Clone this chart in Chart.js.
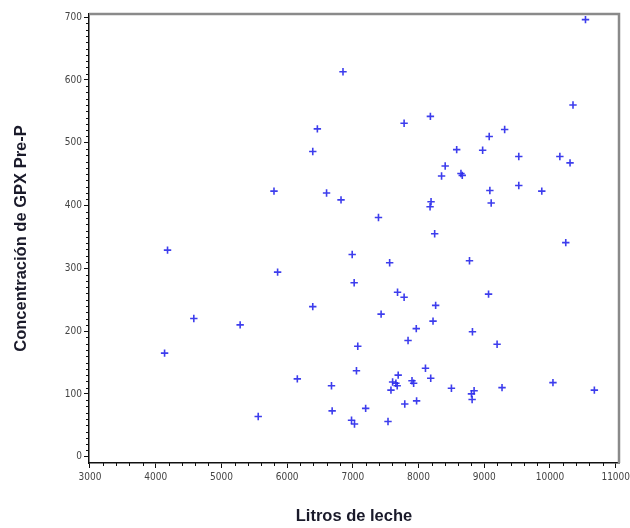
<!DOCTYPE html>
<html>
<head>
<meta charset="utf-8">
<script src="https://cdn.jsdelivr.net/npm/chart.js@4/dist/chart.umd.min.js"></script>
<style>
  html, body { margin: 0; padding: 0; background: #fff; }
  #wrap { width: 630px; height: 528px; position: relative; }
</style>
</head>
<body>
<div id="wrap"><canvas id="c"></canvas></div>
<script>
// Milk yield (litres) per cow and pre-partum GPX concentration
const litros = [
  6850, 6460, 6390, 7780, 8180, 8405, 8350, 5800, 6600, 6820,
  8190, 8175, 7390, 8245, 10540, 10350, 9310, 9075, 8580, 8975,
  9525, 10150, 10305, 8645, 8665, 9525, 9085, 9875, 9105, 10240,
  4180, 4580, 5285, 4135, 5560, 6990, 7560, 5855, 7020, 7680,
  7780, 8260, 6390, 7430, 8220, 7965, 7840, 7075, 7055, 8105,
  6155, 7690, 8185, 7605, 7655, 7900, 7925, 6675, 7675, 7580,
  7790, 7970, 7195, 6685, 6980, 7025, 7535, 8775, 9065, 8820,
  9195, 8500, 9270, 10045, 10675, 8845, 8805, 8815
];
const gpx = [
  613, 522, 486, 531, 542, 463, 447, 423, 420, 409,
  406, 398, 381, 355, 696, 560, 521, 510, 489, 488,
  478, 478, 468, 451, 448, 432, 424, 423, 404, 341,
  329, 220, 210, 165, 64, 322, 309, 294, 277, 262,
  254, 241, 239, 227, 216, 204, 185, 176, 137, 141,
  124, 130, 125, 119, 117, 121, 117, 113, 113, 106,
  84, 89, 77, 73, 58, 52, 56, 312, 259, 199,
  179, 109, 110, 118, 106, 105, 100, 91
];

// Axis tick values
const xTicks = [3000, 4000, 5000, 6000, 7000, 8000, 9000, 10000, 11000];
const yTicks = [0, 100, 200, 300, 400, 500, 600, 700];
const xMinorStep = 200;
const yMinorStep = 10;

const points = litros.map((x, i) => ({ x: x, y: gpx[i] }));

// Minor tick marks and the grey top/right frame
const framePlugin = {
  id: 'frame',
  afterDraw(chart) {
    const { ctx, chartArea: a, scales } = chart;
    const xs = scales.x, ys = scales.y;
    ctx.save();
    ctx.strokeStyle = '#111';
    ctx.lineWidth = 1;
    ctx.beginPath();
    for (let v = xTicks[0]; v <= xTicks[xTicks.length - 1]; v += xMinorStep) {
      if (v % 1000 === 0) continue;
      const px = Math.round(xs.getPixelForValue(v)) + 0.5;
      ctx.moveTo(px, a.bottom);
      ctx.lineTo(px, a.bottom + 3);
    }
    for (let v = yTicks[0]; v <= yTicks[yTicks.length - 1]; v += yMinorStep) {
      if (v % 100 === 0) continue;
      const py = Math.round(ys.getPixelForValue(v)) + 0.5;
      ctx.moveTo(a.left, py);
      ctx.lineTo(a.left - 3, py);
    }
    ctx.stroke();
    ctx.strokeStyle = '#8a8a8a';
    ctx.lineWidth = 2.5;
    ctx.beginPath();
    ctx.moveTo(a.left, a.top);
    ctx.lineTo(a.right, a.top);
    ctx.lineTo(a.right, a.bottom);
    ctx.stroke();
    ctx.restore();
  }
};

const tickFont = { family: '"DejaVu Sans Condensed", "DejaVu Sans", sans-serif', size: 10 };
const titleFont = { family: '"Liberation Sans", Arial, sans-serif', size: 16.5, weight: 'bold' };

new Chart(document.getElementById('c'), {
  type: 'scatter',
  data: {
    datasets: [{
      data: points,
      pointStyle: 'cross',
      pointRadius: 3.7,
      pointHoverRadius: 3.7,
      borderColor: 'rgba(40, 40, 235, 0.9)',
      backgroundColor: 'rgba(40, 40, 235, 0.9)',
      pointBorderWidth: 1.6
    }]
  },
  options: {
    responsive: true,
    maintainAspectRatio: false,
    animation: false,
    events: [],
    layout: { padding: { left: 0, top: 14, right: 11, bottom: 0 } },
    plugins: { legend: { display: false }, tooltip: { enabled: false } },
    scales: {
      x: {
        type: 'linear',
        min: 2985,
        max: 11050,
        afterBuildTicks: s => { s.ticks = xTicks.map(v => ({ value: v })); },
        afterFit: s => { s.height = 65; s.paddingLeft = 0; s.paddingRight = 0; },
        grid: { drawOnChartArea: false, drawTicks: true, tickLength: 5, color: '#111' },
        border: { color: '#111', width: 1.5 },
        ticks: { color: '#444', font: tickFont, padding: 3, maxRotation: 0, autoSkip: false, callback: v => String(v) },
        title: { display: true, text: 'Litros de leche', color: '#1a1a2a', font: titleFont, padding: { top: 2, bottom: 2 } }
      },
      y: {
        type: 'linear',
        min: -10,
        max: 705,
        afterBuildTicks: s => { s.ticks = yTicks.map(v => ({ value: v })); },
        afterFit: s => { s.width = 89; s.paddingTop = 0; s.paddingBottom = 0; },
        grid: { drawOnChartArea: false, drawTicks: true, tickLength: 5, color: '#111' },
        border: { color: '#111', width: 1.5 },
        ticks: { color: '#444', font: tickFont, padding: 2, autoSkip: false, callback: v => String(v) },
        title: { display: true, text: 'Concentración de GPX Pre-P', color: '#1a1a2a', font: titleFont, padding: { top: 12, bottom: 0 } }
      }
    }
  },
  plugins: [framePlugin]
});
</script>
</body>
</html>
